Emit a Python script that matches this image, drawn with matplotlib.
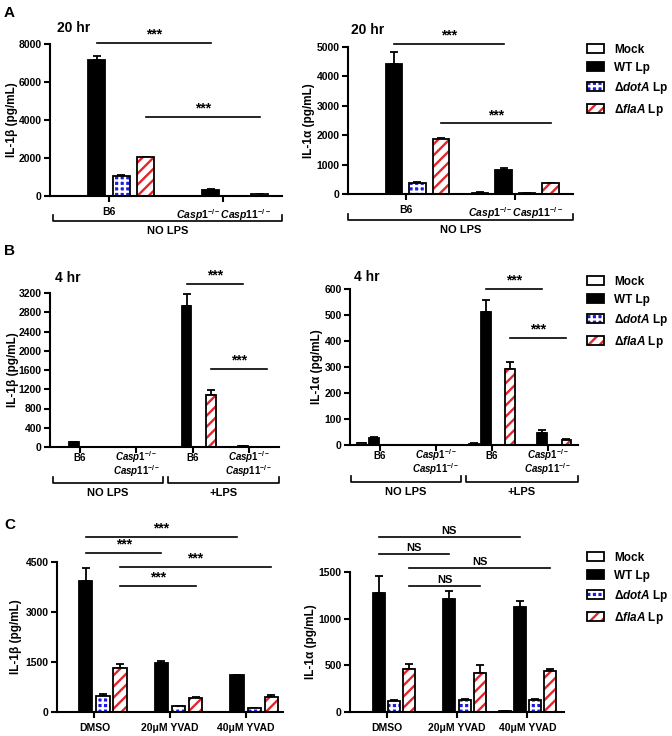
import matplotlib
matplotlib.use('Agg')
import matplotlib.pyplot as plt
import numpy as np
from matplotlib.patches import Patch

plt.rcParams['font.family'] = ['Liberation Sans', 'DejaVu Sans']
plt.rcParams['font.weight'] = 'bold'
plt.rcParams['axes.labelweight'] = 'bold'
plt.rcParams['mathtext.fontset'] = 'custom'
plt.rcParams['mathtext.rm'] = 'Liberation Sans:bold'
plt.rcParams['mathtext.it'] = 'Liberation Sans:bold:italic'
plt.rcParams['mathtext.bf'] = 'Liberation Sans:bold'
plt.rcParams['hatch.linewidth'] = 1.7
plt.rcParams['axes.linewidth'] = 1.5

W, H = 672, 736

# ---- data ----
series = ['Mock', 'WT Lp', r'Δ$\mathit{dotA}$ Lp', r'Δ$\mathit{flaA}$ Lp']
CASP = r'$\mathit{Casp1}^{\mathit{-/-}}\mathit{Casp11}^{\mathit{-/-}}$'
CASP1 = r'$\mathit{Casp1}^{\mathit{-/-}}$'
CASP11 = r'$\mathit{Casp11}^{\mathit{-/-}}$'

# A: 20 hr, no LPS  (rows: Mock, WT, dotA, flaA; cols: groups)
a_groups = ['B6', CASP]
a_il1b = [[20, 20], [7150, 320], [1050, 10], [2030, 90]]
a_il1b_err = [[0, 0], [200, 30], [50, 0], [30, 10]]
a_il1a = [[15, 50], [4420, 820], [380, 40], [1880, 360]]
a_il1a_err = [[0, 5], [400, 60], [20, 5], [20, 20]]

# B: 4 hr, -/+ LPS (group labels on two lines)
b_groups = ['B6', CASP1, 'B6', CASP1]
b_groups_line2 = ['', CASP11, '', CASP11]
b_il1b = [[0, 0, 5, 0], [100, 0, 2930, 20], [0, 0, 0, 0], [0, 0, 1080, 5]]
b_il1b_err = [[0, 0, 0, 0], [0, 0, 240, 5], [0, 0, 0, 0], [0, 0, 110, 0]]
b_il1a = [[8, 0, 5, 0], [28, 0, 512, 46], [0, 0, 0, 0], [0, 0, 293, 20]]
b_il1a_err = [[1, 0, 1, 0], [2, 0, 47, 10], [0, 0, 0, 0], [0, 0, 28, 4]]

# C: YVAD inhibitor
c_groups = ['DMSO', '20μM YVAD', '40μM YVAD']
c_il1b = [[0, 0, 0], [3930, 1460, 1100], [480, 170, 120], [1310, 410, 450]]
c_il1b_err = [[0, 0, 0], [390, 70, 0], [60, 10, 0], [130, 40, 50]]
c_il1a = [[0, 0, 10], [1280, 1215, 1128], [121, 131, 130], [466, 423, 442]]
c_il1a_err = [[0, 0, 0], [175, 85, 57], [10, 5, 8], [46, 78, 14]]

# significance: (group_a, group_b, series index, y, label)
a_il1b_sig = [(0, 1, 1, 8050, '***'), (0, 1, 3, 4150, '***')]
a_il1a_sig = [(0, 1, 1, 5100, '***'), (0, 1, 3, 2400, '***')]
b_il1b_sig = [(2, 3, 1, 3390, '***'), (2, 3, 3, 1620, '***')]
b_il1a_sig = [(2, 3, 1, 600, '***'), (2, 3, 3, 413, '***')]
c_il1b_sig = [(0, 2, 1, 5250, '***'), (0, 1, 1, 4770, '***'),
              (0, 2, 3, 4350, '***'), (0, 1, 3, 3780, '***')]
c_il1a_sig = [(0, 2, 1, 1875, 'NS'), (0, 1, 1, 1693, 'NS'),
              (0, 2, 3, 1543, 'NS'), (0, 1, 3, 1350, 'NS')]

# ---- styles ----
BLUE = '#1c1ce0'
RED = '#e3262e'
styles = [
    dict(face='white', hatch=None, hcol='white'),
    dict(face='black', hatch=None, hcol='black'),
    dict(face=BLUE, hatch='+++', hcol='white'),
    dict(face='white', hatch='///', hcol=RED),
]

fig = plt.figure(figsize=(W / 100, H / 100), dpi=100)


def add_ax(x0, x1, ytop, ybot):
    return fig.add_axes([x0 / W, 1 - ybot / H, (x1 - x0) / W, (ybot - ytop) / H])


def draw_panel(ax, groups, vals, errs, gap, margin, width, ymax, ystep, ylabel, labx,
               xfs=8, xpad=4):
    centers = np.arange(len(groups)) * gap
    pos = []
    for i, st in enumerate(styles):
        x = centers + i - 1.5
        pos.append(x)
        ax.bar(x, vals[i], width, color=st['face'], edgecolor=st['hcol'],
               hatch=st['hatch'], lw=0, zorder=2)
        ax.bar(x, vals[i], width, facecolor='none', edgecolor='black', lw=1.3, zorder=3)
        err = np.array(errs[i])
        ax.errorbar(x, vals[i], yerr=[np.zeros_like(err), err], fmt='none',
                    ecolor='black', elinewidth=1.3, capsize=3, capthick=1.3, zorder=1)
    ax.spines[['top', 'right']].set_visible(False)
    ax.set_ylim(0, ymax)
    ax.set_yticks(np.arange(0, ymax + 1, ystep))
    ax.set_xlim(-1.5 - margin, centers[-1] + 1.5 + margin)
    ax.set_xticks(centers)
    ax.set_xticklabels(groups, fontsize=xfs)
    ax.tick_params(direction='out', length=4, width=1.5, labelsize=7.5, pad=2)
    ax.tick_params(axis='x', pad=xpad)
    ax.set_ylabel(ylabel, fontsize=8.5)
    ax.yaxis.set_label_coords(labx, 0.5)
    return pos, centers


def two_line_labels(ax, centers, line1, line2):
    # replace tick labels by two stacked lines
    ax.set_xticklabels([])
    for c, t1, t2 in zip(centers, line1, line2):
        for t, dy in ((t1, -7.6), (t2, -17.4)):
            if t:
                ax.annotate(t, (c, 0), xycoords=('data', 'axes fraction'),
                            xytext=(0, dy), textcoords='offset points',
                            ha='center', va='center', fontsize=7, annotation_clip=False)


def sig(ax, pos, sigs, fs):
    for g0, g1, s, y, label in sigs:
        x0, x1 = pos[s][g0], pos[s][g1]
        ax.plot([x0, x1], [y, y], color='black', lw=1.2, clip_on=False)
        ax.annotate(label, ((x0 + x1) / 2, y), xytext=(0, 1), textcoords='offset points',
                    ha='center', va='bottom', fontsize=fs, annotation_clip=False)


def bracket(ax, x0, x1, drop, label):
    hpx = ax.get_position().height * H
    y = -drop / hpx
    yt = -(drop - 6) / hpx
    ax.plot([x0, x0, x1, x1], [yt, y, y, yt], transform=ax.transAxes,
            clip_on=False, color='black', lw=1.2)
    ax.text((x0 + x1) / 2, -(drop + 10) / hpx, label, transform=ax.transAxes,
            ha='center', va='center', fontsize=8)


def legend(top):
    handles = [(Patch(facecolor=st['face'], edgecolor=st['hcol'], hatch=st['hatch'], lw=0),
                Patch(facecolor='none', edgecolor='black', lw=1.3)) for st in styles]
    fig.legend(handles, series, loc='upper left', bbox_to_anchor=(587 / W, 1 - top / H),
               frameon=False, fontsize=8.5, handlelength=1.4, handleheight=0.8,
               handletextpad=0.9, labelspacing=0.5, borderpad=0, borderaxespad=0)


def ftext(x, y, s, **kw):
    fig.text(x / W, 1 - y / H, s, va='center', **kw)


IL1B = 'IL-1β (pg/mL)'
IL1A = 'IL-1α (pg/mL)'

# panel A
ax = add_ax(50, 282, 44, 196)
p, c = draw_panel(ax, a_groups, a_il1b, a_il1b_err, 4.65, 0.9, 0.7, 8000, 2000, IL1B, -0.136)
sig(ax, p, a_il1b_sig, 10)
bracket(ax, 0.013, 1.0, 25, 'NO LPS')
ax = add_ax(348, 573, 47, 194)
p, c = draw_panel(ax, a_groups, a_il1a, a_il1a_err, 4.68, 0.95, 0.7, 5000, 1000, IL1A, -0.145)
sig(ax, p, a_il1a_sig, 10)
bracket(ax, 0.0, 1.0, 26, 'NO LPS')
legend(44)
ftext(57, 28, '20 hr', fontsize=10)
ftext(351, 30, '20 hr', fontsize=10)

# panel B
ax = add_ax(50, 279, 293, 447)
p, c = draw_panel(ax, b_groups, b_il1b, b_il1b_err, 4.6, 0.95, 0.8, 3200, 400, IL1B, -0.137)
two_line_labels(ax, c, b_groups, b_groups_line2)
sig(ax, p, b_il1b_sig, 10)
bracket(ax, 0.013, 0.493, 36, 'NO LPS')
bracket(ax, 0.515, 1.0, 36, '+LPS')
ax = add_ax(350, 578, 289, 445)
p, c = draw_panel(ax, b_groups, b_il1a, b_il1a_err, 4.6, 0.95, 0.8, 600, 100, IL1A, -0.12)
two_line_labels(ax, c, b_groups, b_groups_line2)
sig(ax, p, b_il1a_sig, 10)
bracket(ax, 0.004, 0.487, 37, 'NO LPS')
bracket(ax, 0.509, 1.0, 37, '+LPS')
legend(276)
ftext(55, 278, '4 hr', fontsize=10)
ftext(354, 277, '4 hr', fontsize=10)

# panel C
ax = add_ax(57, 283, 562, 712)
p, c = draw_panel(ax, c_groups, c_il1b, c_il1b_err, 4.44, 0.7, 0.77, 4500, 1500, IL1B, -0.153)
sig(ax, p, c_il1b_sig, 10)
ax = add_ax(350, 564, 572, 712)
p, c = draw_panel(ax, c_groups, c_il1a, c_il1a_err, 4.63, 0.9, 0.78, 1500, 500, IL1A, -0.152)
sig(ax, p, c_il1a_sig, 8)
legend(552)

ftext(4, 13, 'A', fontsize=11)
ftext(4, 251, 'B', fontsize=11)
ftext(4, 525, 'C', fontsize=11)

fig.savefig('out.png', dpi=100)
